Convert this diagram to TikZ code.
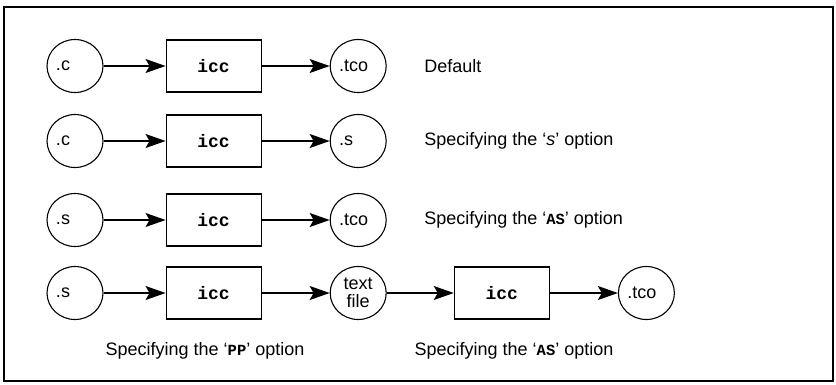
\documentclass[tikz,border=0pt]{standalone}
\usepackage{fontspec}
\setmainfont{Liberation Sans}
\setmonofont{Liberation Mono}
\usetikzlibrary{arrows.meta, positioning, shapes.geometric}
\newcommand{\optn}[1]{{\fontsize{15.5}{16}\selectfont\ttfamily\bfseries #1}}

\begin{document}
\begin{tikzpicture}[
    x=1pt, y=-1pt,
    font=\fontsize{18}{20}\selectfont,
    file/.style={draw, ellipse, line width=1.1pt, minimum width=56pt, minimum height=53pt,
                 inner sep=0pt, text width=38pt, align=left},
    comp/.style={draw, line width=1.1pt, minimum width=95pt, minimum height=52pt,
                 inner sep=0pt, font=\fontsize{18}{20}\selectfont\ttfamily\bfseries},
    note/.style={anchor=west},
    ar/.style={-{Stealth[length=20pt, width=14pt, inset=4pt]}, line width=1.2pt}
  ]
    \useasboundingbox (0,0) rectangle (836,384);
    \draw[line width=1.3pt] (4,7) rectangle (833,381);

    % default
    \node[file] (src1) at (75,66) {.c};
    \node[comp] (icc1) [right=62pt of src1] {icc};
    \node[file] (out1) [right=68pt of icc1] {.tco};
    \node[note] (lab1) [right=34pt of out1] {Default};

    % s option
    \node[file] (src2) at (75,141) {.c};
    \node[comp] (icc2) [right=62pt of src2] {icc};
    \node[file] (out2) [right=68pt of icc2] {.s};
    \node[note] (lab2) [right=34pt of out2] {Specifying the `\textit{s}' option};

    % As option
    \node[file] (src3) at (75,220) {.s};
    \node[comp] (icc3) [right=62pt of src3] {icc};
    \node[file] (out3) [right=68pt of icc3] {.tco};
    \node[note] (lab3) [right=34pt of out3] {Specifying the `\optn{AS}' option};

    % PP then As
    \node[file] (src4) at (75,293) {.s};
    \node[comp] (icc4) [right=62pt of src4] {icc};
    \node[file, align=center, font=\fontsize{18}{18}\selectfont] (txt4) [right=68pt of icc4] {text\\file};
    \node[comp] (icc5) [right=67pt of txt4] {icc};
    \node[file] (out5) [right=68pt of icc5] {.tco};

    \node (cap4) at (205,351) {Specifying the `\optn{PP}' option};
    \node (cap5) at (514,351) {Specifying the `\optn{AS}' option};

    \foreach \a/\b in {src1/icc1, icc1/out1, src2/icc2, icc2/out2, src3/icc3, icc3/out3,
                       src4/icc4, icc4/txt4, txt4/icc5, icc5/out5}
      \draw[ar] (\a) -- (\b);
  \end{tikzpicture}
\end{document}
